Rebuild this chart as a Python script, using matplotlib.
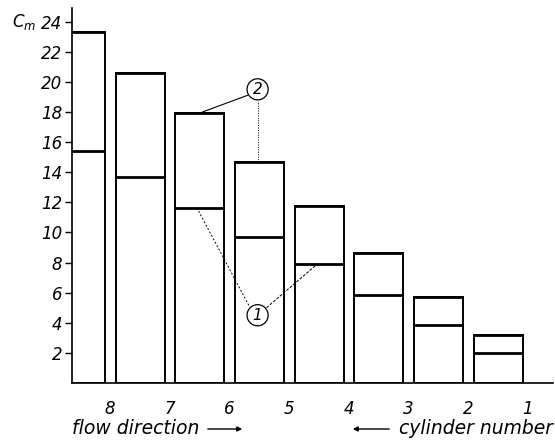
import matplotlib
matplotlib.use("Agg")
import matplotlib.pyplot as plt
import numpy as np

# cylinder numbers, left to right (flow direction)
cylinders = ["8", "7", "6", "5", "4", "3", "2", "1"]
# C_m, upper and lower marks of each bar
c_upper = [23.3, 20.6, 17.9, 14.7, 11.75, 8.65, 5.68, 3.18]
c_lower = [15.4, 13.7, 11.65, 9.7, 7.9, 5.83, 3.84, 2.0]
yticks = [2, 4, 6, 8, 10, 12, 14, 16, 18, 20, 22, 24]

plt.rcParams["font.family"] = "DejaVu Sans"
plt.rcParams["font.style"] = "italic"

fig = plt.figure(figsize=(5.55, 4.42), dpi=100)
ax = fig.add_axes([72 / 555, 1 - 383 / 442, (553 - 72) / 555, (383 - 8) / 442])

x = np.arange(len(cylinders))
width = 0.82
centers = x - 0.5

ax.bar(centers, c_upper, width, fill=False, edgecolor="black", linewidth=1.4)
ax.hlines(c_lower, centers - width / 2, centers + width / 2, color="black", linewidth=2.0)
ax.hlines(c_upper, centers - width / 2, centers + width / 2, color="black", linewidth=2.0)

ax.set_xlim(-0.64, 7.42)
ax.set_ylim(0, 24.9)
ax.set_xticks(x)
ax.set_xticklabels(cylinders, fontsize=12, fontstyle="italic")
ax.tick_params(axis="x", length=0, pad=12)
ax.set_yticks(yticks)
ax.set_yticklabels([str(v) for v in yticks], fontsize=12, fontstyle="italic")
ax.tick_params(axis="y", length=5, width=1, pad=2)
for s in ("top", "right"):
    ax.spines[s].set_visible(False)
ax.spines["left"].set_linewidth(1.2)
ax.spines["bottom"].set_linewidth(1.2)

# callouts
circ = dict(boxstyle="circle,pad=0.2", fc="white", ec="black", lw=0.9)
ax.text(2.47, 19.5, "2", ha="center", va="center", fontsize=11, bbox=circ, zorder=5)
ax.text(2.47, 4.5, "1", ha="center", va="center", fontsize=11, bbox=circ, zorder=5)
ax.plot([1.55, 2.3], [c_upper[2] + 0.1, 19.1], color="black", lw=0.8)
ax.plot([2.47, 2.47], [c_upper[3], 18.7], color="black", lw=0.7, ls=(0, (1, 1.5)))
ax.plot([1.45, 2.33], [c_lower[2], 5.1], color="black", lw=0.7, ls=(0, (2, 2)))
ax.plot([2.62, 3.47], [5.0, c_lower[4]], color="black", lw=0.7, ls=(0, (3, 1.5)))

fig.text(12 / 555, 1 - 22 / 442, "$C_m$", fontsize=12, va="center", ha="left")

fig.text(72 / 555, 1 - 428 / 442, "flow direction", fontsize=13.5, va="center", ha="left")
fig.text(553 / 555, 1 - 428 / 442, "cylinder number", fontsize=13.5, va="center", ha="right")
arrow = dict(arrowstyle="-|>", color="black", lw=1.0, mutation_scale=7)
fig.add_artist(matplotlib.patches.FancyArrowPatch((205 / 555, 1 - 429 / 442), (245 / 555, 1 - 429 / 442),
                                                  transform=fig.transFigure, **arrow))
fig.add_artist(matplotlib.patches.FancyArrowPatch((392 / 555, 1 - 429 / 442), (350 / 555, 1 - 429 / 442),
                                                  transform=fig.transFigure, **arrow))

fig.savefig("out.png", dpi=100)
